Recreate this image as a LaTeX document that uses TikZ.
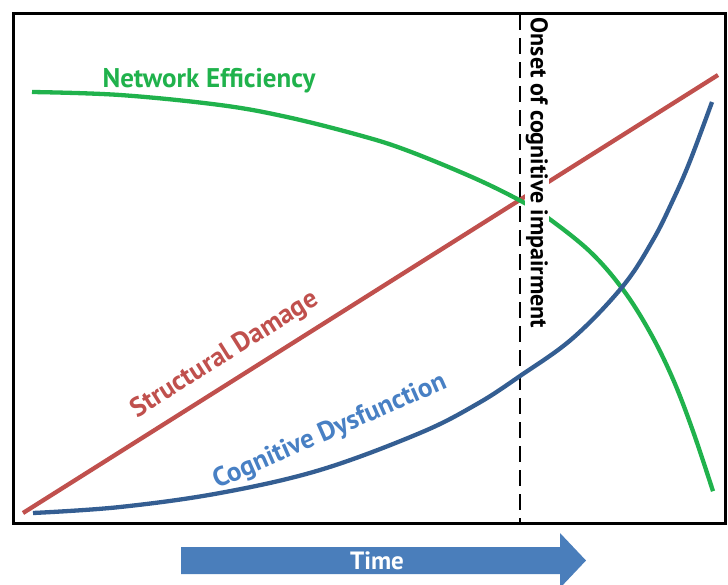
\documentclass[tikz,border=0pt]{standalone}
\usepackage{fontspec}
\setmainfont{PT Sans}
\definecolor{effgreen}{RGB}{32,178,76}
\definecolor{dmgred}{RGB}{192,80,77}
\definecolor{dysblue}{RGB}{52,94,146}
\definecolor{lblblue}{RGB}{72,128,196}
\definecolor{timeblue}{RGB}{74,126,187}
\tikzset{
  curve/.style={line width=4.3pt, line cap=butt},
  lbl/.style={font=\bfseries\fontsize{27}{30}\selectfont, inner sep=0pt},
}
\begin{document}
\begin{tikzpicture}[x=1pt,y=-1pt]
\useasboundingbox (0,0) rectangle (728,584);
% frame
\draw[line width=3pt] (13,13) rectangle (725,523);
% onset dashed line
\coordinate (dtop) at (520,14);
\coordinate (dbot) at (520,522);
\draw[line width=2.4pt, dash pattern=on 16pt off 8pt] (dtop) -- (dbot);
% structural damage
\coordinate (rs) at (23,513);
\coordinate (re) at (718,75);
\draw[curve, dmgred] (rs) -- (re);
% network efficiency
\draw[curve, effgreen] plot[smooth, tension=0.6] coordinates {(32,92) (120,95) (220,105) (287,117) (360,135.4) (407,150.4) (473,177.5) (520,200.5) (547,217.2) (590,251.6) (623,289.6) (650,332.3) (673,379.2) (693,431.2) (713,491.2)};
% cognitive dysfunction
\draw[curve, dysblue] plot[smooth, tension=0.6] coordinates {(33,513) (120,507) (220,493) (320,470) (420,433) (477,404) (520,376) (573,338) (623,286) (653,240) (673,200) (690,161) (712,102)};
% labels
\node[lbl, text=effgreen, anchor=base] (ne) at (209,87) {Network Efficiency};
\node[lbl, text=dmgred, rotate=32.2] (sd) at (225,355) {Structural Damage};
\node[lbl, text=lblblue, rotate=23.7] (cd) at (330,432) {Cognitive Dysfunction};
\node[font=\bfseries\fontsize{24}{28}\selectfont, inner sep=0.5pt, fill=white, rotate=-90] (onset) at (537,173) {Onset of cognitive impairment};
% time arrow
\fill[timeblue] (181,547) -- (560,547) -- (560,533) -- (586,560.5) -- (560,588) -- (560,574) -- (181,574) -- cycle;
\node[font=\bfseries\fontsize{25}{28}\selectfont, text=white, inner sep=0pt] (time) at (377,560.5) {Time};
\end{tikzpicture}
\end{document}
